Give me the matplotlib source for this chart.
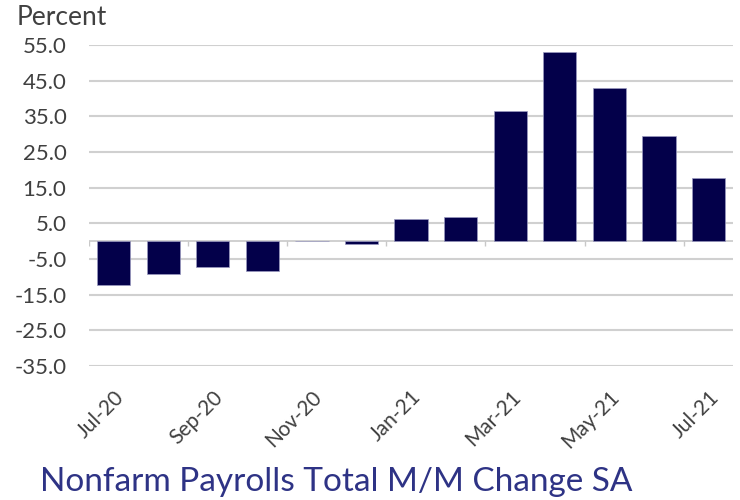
import numpy as np
import matplotlib.pyplot as plt

# données
months = ["Jul-20", "Aug-20", "Sep-20", "Oct-20", "Nov-20", "Dec-20", "Jan-21",
          "Feb-21", "Mar-21", "Apr-21", "May-21", "Jun-21", "Jul-21"]
values = [-12.3, -9.1, -7.2, -8.3, 0.0, -0.8, 6.3, 6.7, 36.5, 53.1, 43.0, 29.4, 17.8]
yticks = [-35, -25, -15, -5, 5, 15, 25, 35, 45, 55]

plt.rcParams['font.family'] = ['Lato', 'DejaVu Sans']
txt = '#404040'

fig = plt.figure(figsize=(7.4, 5), dpi=100)
ax = fig.add_axes([0.120, 0.268, 0.871, 0.642])

x = np.arange(len(months))
ax.bar(x, values, width=0.67, color='#03004a', edgecolor='#9a9ac0', linewidth=0.5, zorder=3)

ax.set_xlim(-0.5, len(months) - 0.5)
ax.set_ylim(-35, 55)
ax.set_yticks(yticks)
ax.set_yticklabels([f"{v:.1f}" for v in yticks], color=txt, fontsize=16)
ax.yaxis.grid(True, color='#d0d0d0', linewidth=1.5, zorder=0)
ax.tick_params(axis='y', length=0, pad=16)

ax.set_xticks(x[::2])
ax.set_xticklabels(months[::2], rotation=45, ha='right', va='top',
                   rotation_mode='anchor', color=txt, fontsize=15)
ax.tick_params(axis='x', length=0, pad=15)

for s in ax.spines.values():
    s.set_visible(False)

# ligne du zéro avec petites graduations tous les deux mois
ax.axhline(0, color='#c8c8c8', linewidth=1.2, zorder=2)
ax.vlines(np.arange(-0.5, len(months), 2), -1.4, 0, color='#c8c8c8', linewidth=1, zorder=2)

fig.text(0.022, 0.965, "Percent", color=txt, fontsize=19, va='center', ha='left')
fig.text(0.054, 0.036, "Nonfarm Payrolls Total M/M Change SA",
         color='#2e3385', fontsize=24, va='center', ha='left')

fig.savefig("out.png", dpi=100)
